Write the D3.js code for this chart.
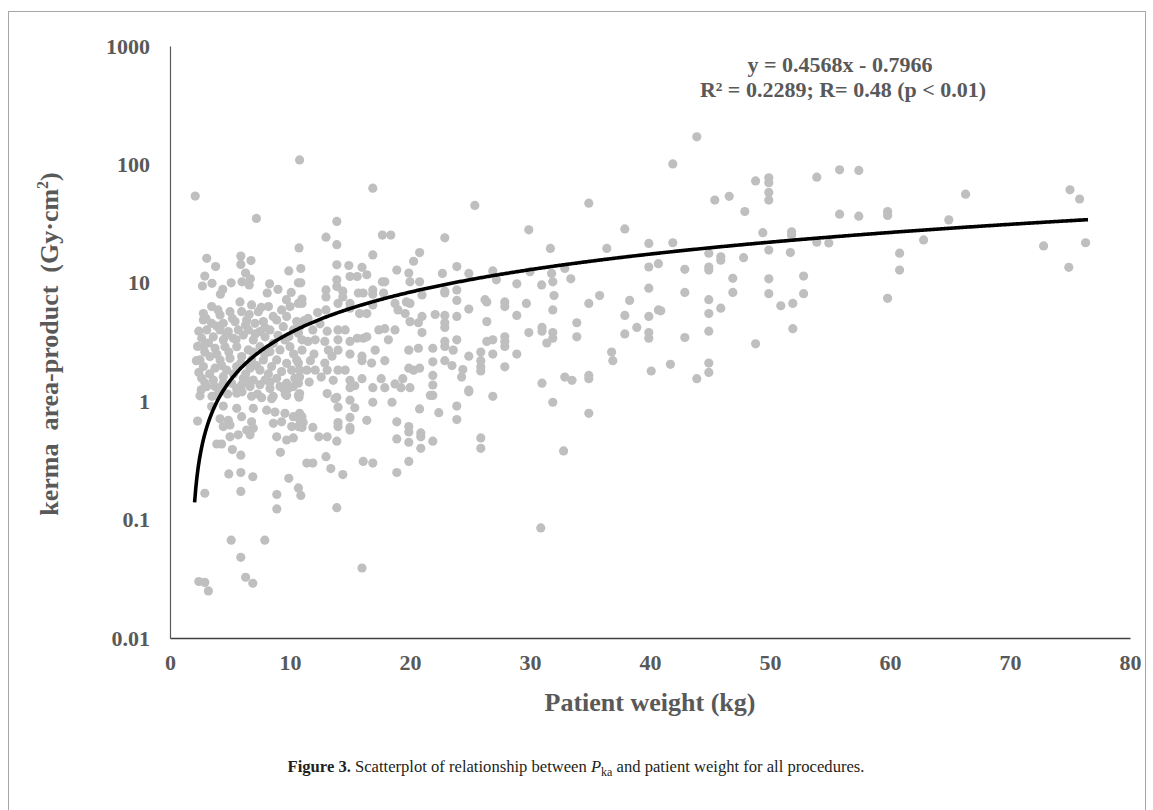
<!DOCTYPE html>
<html>
<head>
<meta charset="utf-8">
<script src="https://cdn.jsdelivr.net/npm/d3@7"></script>
<style>
  body { margin: 0; background: #fff; }
  .axis text { font-family: "Liberation Serif", "Times New Roman", serif; font-weight: bold; font-size: 22px; fill: #595959; }
</style>
</head>
<body>
<div id="container"></div>
<script>
// tick labels
const xTicks = [0, 10, 20, 30, 40, 50, 60, 70, 80];
const yTicks = [0.01, 0.1, 1, 10, 100, 1000];
const yTickLabels = ['0.01', '0.1', '1', '10', '100', '1000'];

// fitted line from the chart text
const fitSlope = 0.4568;
const fitIntercept = -0.7966;
const fitFrom = 2.05;
const fitTo = 76.5;

// [patient weight kg, kerma area-product Gy·cm²]
const under10kg = [
  [2.1,54],[7.2,35],[3.06,16.1],[3.8,13.7],[5.9,16.8],[6.75,15.4],[5.9,14.3],[2.9,11.4],[6.3,12.1],[2.7,9.4],
  [3.5,9.9],[5.1,10],[4.4,8.8],[4.2,8.0],[6.0,10.2],[6.7,10.8],[6.6,9.6],[8.3,9.8],[9.0,8.8],[8.1,8.2],
  [9.9,12.6],[9.7,7.2],
  [2.78,5.5],[3.47,6.3],[5.83,6.9],[6.8,6.5],[7.36,5.7],[5.97,5.7],[5.0,5.7],[4.17,5.35],[8.2,6.3],[9.3,5.9],
  [2.78,4.85],[3.47,4.55],[4.44,4.55],[5.42,4.7],[6.39,4.85],[7.08,4.55],[7.78,4.7],[8.89,4.85],[9.72,5.2],
  [3.06,4.0],[4.17,4.0],[4.86,3.87],[5.69,4.0],[6.53,4.0],[7.5,3.87],[8.33,4.0],[9.44,4.26],
  [2.64,3.4],[3.61,3.5],[4.44,3.29],[5.28,3.4],[6.11,3.62],[6.94,3.29],[7.92,3.5],[8.61,3.08],[9.58,3.29],
  [2.78,2.89],[3.75,2.8],[4.58,2.89],[5.56,2.89],[6.53,2.71],[7.5,2.89],[8.33,2.62],[9.17,2.71],
  [2.5,2.23],[3.33,2.38],[4.17,2.23],[5.0,2.3],[5.97,2.38],[6.8,2.23],[7.78,2.23],[8.89,2.23],[9.72,2.09],
  [2.78,1.96],[3.75,1.9],[4.72,1.83],[5.56,1.96],[6.67,1.9],[7.5,1.83],[8.47,1.96],[9.3,1.78],
  [2.64,1.56],[3.61,1.51],[4.44,1.61],[5.14,1.42],[6.11,1.56],[6.94,1.51],[7.92,1.51],[8.89,1.56],[9.72,1.42],
  [3.06,1.33],[4.17,1.28],[5.56,1.28],[6.67,1.33],[8.33,1.28],[9.44,1.28],
  [2.4,3.9],[3.2,3.1],[3.9,4.3],[4.7,3.6],[5.5,3.3],[6.3,4.4],[7.1,3.7],[7.9,4.2],[2.9,2.6],[3.9,2.5],
  [4.9,2.6],[5.9,2.1],[6.9,2.6],[7.9,2.5],[2.4,1.75],[3.3,1.7],[4.3,2.0],[5.3,1.7],[6.3,1.7],[7.2,2.0],
  [8.2,1.7],[2.3,2.9],[3.0,5.0],[4.0,5.9],[5.2,5.0],[6.6,5.4],[7.6,6.2],[8.6,5.2],[9.0,3.6],[9.9,3.5],
  [2.2,2.2],[2.6,1.25],[3.5,1.1],[4.8,1.15],[6.0,1.2],[7.3,1.15],[8.6,1.1],[9.6,1.15],
  [2.92,1.42],[3.75,1.33],[4.44,1.42],[5.97,1.38],[6.67,1.47],[7.5,1.38],[8.33,1.44],[9.17,1.33],[9.86,1.28],
  [5.56,1.17],[6.8,1.1],[7.64,1.07],[8.47,1.05],[9.72,1.12],[3.89,1.12],
  [3.47,0.90],[4.44,0.91],[5.56,0.87],[6.94,0.87],[8.06,0.84],[8.75,0.81],[9.58,0.79],
  [4.17,0.71],[4.86,0.69],[5.97,0.74],[6.8,0.67],[4.44,0.61],[5.0,0.63],[6.39,0.57],[6.94,0.59],[5.69,0.52],
  [5.0,0.50],[6.67,0.52],[8.61,0.65],[9.3,0.67],[8.89,0.50],[9.72,0.47],
  [2.5,1.11],[2.3,0.68],[3.9,0.435],[4.3,0.435],[5.2,0.39],[5.9,0.35],[9.2,0.37],[4.9,0.243],[5.9,0.25],
  [6.9,0.23],[5.9,0.173],[2.9,0.167],[8.9,0.163],[8.9,0.123],[9.9,0.223],[5.1,0.067],[7.9,0.067],
  [5.9,0.048],[6.3,0.0326],[6.9,0.029],[2.4,0.030],[2.9,0.0295],[3.2,0.025]
];

const from10to21kg = [
  [10.8,109],[10.75,19.7],[10.1,8.3],[10.7,10],[10.0,6.3],[10.7,6.7],[10.56,4.7],[10.28,4.0],[10.7,3.74],
  [10.0,2.89],[10.56,2.23],[10.14,1.83],[10.4,1.56],[10.28,1.33],[10.3,2.5],[10.7,1.42],[10.7,1.12],
  [10.28,0.74],[10.83,0.69],[10.14,0.61],[10.7,0.61],[10.28,0.49],[10.7,0.185],
  [16.9,63],[13.9,33],[13.0,24.3],[17.7,25.3],[18.4,25.3],[13.9,21],[16.9,17.2],[20.8,18],[20.3,15.2],
  [10.9,13.2],[13.9,14.2],[14.9,14],[16.0,13.5],[16.4,11.7],[18.9,12.8],[19.9,12.1],[20.0,10.2],[20.8,10.2],
  [10.9,10],[13.9,10.6],[15,11.3],[15.6,11.3],[13.9,9.3],[13,8.7],[13,7.6],[14.4,8.5],[14.4,7.6],[15.7,8.2],
  [16.1,8.2],[16.9,8.7],[16.9,8.0],[17.7,10.2],[17.9,10.2],[17.8,8.2],[11.0,7.3],[11.0,6.7],[13.0,5.9],
  [14.0,6.7],[15.0,6.7],[15.0,6.1],[15.8,5.5],[16.4,5.5],[16.9,6.5],[18.75,6.7],[19,5.9],[19.6,5.5],
  [19.7,6.9],[20,6.7],[20,4.7],[20.7,4.6],[21,3.8],[19.9,2.7],[17.9,4.1],[18.2,3.3],[17.1,2.7],[17.9,2.2],
  [16.8,2.1],[16,2.4],[16,2.2],[15,2.5],[16.1,3.4],[16.4,3.5],[15,3.2],[15.6,3.4],[14,4.0],[14,3.3],
  [14.6,4.0],[14,2.7],[13.1,3.9],[12.9,3.2],[13.2,2.7],[13.5,2.4],[11.9,4.0],[12.1,3.3],[11,3.3],[11.5,3.2],
  [11,2.7],[10.7,2.1],[11.4,1.83],[12.1,1.83],[12.9,2.1],[13.1,1.83],[14,1.83],[14.6,1.83],[15,1.5],[15,1.3],
  [16,1.55],[16.9,1.3],[17.6,1.55],[17.9,1.3],[18.75,1.4],[19.4,1.55],[20,1.3],[19.9,1.9],[20.3,1.83],
  [20.8,1.9],[20.7,2.8],[18.75,4.0],[17.4,4.0],[10.75,4.2],[10.8,1.83],[10.8,1.6],
  [11.5,5.0],[12.3,5.6],[12.5,4.5],[11.2,4.8],[12.0,2.5],[11.7,2.2],[12.6,1.6],[11.6,1.45],[13.6,1.5],
  [10.8,1.16],[10.75,1.08],[15.4,1.35],[19.25,1.3],[13.1,1.16],[13.9,1.08],[13.75,1.05],[14,0.89],[15,1.02],
  [15.4,0.88],[16.9,0.98],[18.5,0.98],[20.8,0.86],[10.8,0.79],[11,0.74],[11.1,0.66],[11,0.6],[11.9,0.60],
  [14,0.66],[14,0.61],[15,0.73],[15,0.6],[15,0.57],[16.4,0.69],[18.9,0.67],[19.9,0.61],[19.9,0.55],
  [20.9,0.54],[20.9,0.5],[18.9,0.48],[19.9,0.45],[20.9,0.40],[12.4,0.5],[13.1,0.5],[13.9,0.46],[13,0.34],
  [13.4,0.27],[14.4,0.24],[11.4,0.30],[11.9,0.30],[16.1,0.31],[16.9,0.30],[18.9,0.25],[19.9,0.31],
  [10.9,0.16],[13.9,0.126],[16,0.039]
];

const from21to41kg = [
  [25.4,45],[34.9,47],[29.9,28],[37.9,28.5],[22.9,24],[39.9,21.5],[31.7,19.5],[36.4,19.5],[23.9,13.7],
  [22.7,12],[24.9,12],[26.9,12.6],[27.2,10.6],[30,12.4],[31.8,12],[31.9,10.2],[32.9,13.2],[33.4,10.8],
  [39.9,13.6],[40.7,14.5],[21,7.9],[22.9,8.5],[22.9,8.2],[23.9,8.7],[23.9,7.1],[26.25,7.2],[26.4,6.9],
  [27.9,6.9],[27.9,6.3],[28.9,9.8],[29.7,6.7],[30.97,9.6],[32,7.8],[31.9,5.9],[34.9,6.7],[35.8,7.8],
  [38.3,7.1],[39.9,9.0],[40.7,5.9],[21,5.2],[22.1,5.4],[22.9,5.3],[22.9,4.6],[22.9,4.2],[23.9,5.2],
  [24.9,6.0],[26.4,4.7],[28.9,5.3],[33.9,4.6],[33.9,3.5],[37.9,5.3],[37.9,3.7],[38.9,4.2],[39.9,5.2],
  [39.9,3.8],[39.9,3.4],[29.9,3.8],[31,4.2],[31,3.9],[31.9,3.8],[31.9,3.4],[31.4,3.1],[21.9,2.8],
  [22.9,3.2],[22.9,2.9],[23.9,3.3],[23.6,2.7],[26.4,3.2],[26.9,3.3],[27.9,3.5],[27.9,3.2],[27.9,2.9],
  [26.9,2.5],[28.9,2.5],[24.9,2.4],[25.9,2.6],[25.9,2.2],[25.9,1.95],[25.9,1.8],[21.9,2.15],[22.9,2.2],
  [23.5,2.0],[21.9,1.65],[21.9,1.37],[24.4,1.85],[24.3,1.6],[24.9,1.24],[27.9,1.95],[31,1.42],[32.9,1.6],
  [33.5,1.5],[34.9,1.65],[34.9,1.55],[36.8,2.6],[36.9,2.2],[40.1,1.8],
  [21.7,1.12],[21.9,1.12],[24.9,1.2],[26.9,1.1],[22.4,0.8],[23.9,0.91],[23.9,0.70],[31.9,0.98],[34.9,0.79],
  [21.9,0.46],[25.9,0.49],[25.9,0.40],[32.8,0.38],[30.9,0.085]
];

const over41kg = [
  [43.9,171],[41.9,101],[55.8,90],[57.4,89],[53.9,78],[49.9,77],[49.9,70],[49.9,58],[49.9,50],[48.8,72.5],
  [46.6,53.7],[45.4,50],[47.9,40],[55.8,38],[57.4,36.5],[59.8,40],[59.8,37],[41.9,21.8],[49.4,26.5],
  [51.8,27],[51.8,25.3],[53.9,22],[54.9,21.7],[44.9,17.8],[45.9,16.6],[45.9,15.5],[47.8,16.3],[49.9,18.9],
  [51.7,18],[42.9,13],[44.9,13.6],[44.9,12.8],[42.9,8.3],[44.9,7.2],[45.9,6.1],[46.9,10.9],[46.9,8.3],
  [49.9,10.8],[49.9,8.1],[50.9,6.4],[51.9,6.7],[52.8,11.4],[52.8,8.1],[51.9,4.1],[59.8,7.4],[40.9,5.8],
  [42.9,3.45],[44.9,5.5],[44.9,3.9],[48.8,3.05],[41.7,2.05],[43.9,1.55],[44.9,2.1],[44.9,1.75],
  [66.3,56],[75,61],[75.8,51],[64.9,34],[62.8,23],[60.8,17.8],[60.8,12.8],[72.8,20.5],[76.3,21.8],[74.9,13.5]
];

const points = under10kg.concat(from10to21kg, from21to41kg, over41kg);

const width = 1153;
const height = 810;

const svg = d3.select('#container')
  .append('svg')
  .attr('width', width)
  .attr('height', height);

// figure frame
svg.append('rect')
  .attr('x', 8.5)
  .attr('y', 11.5)
  .attr('width', 1137)
  .attr('height', 820)
  .attr('fill', 'none')
  .attr('stroke', '#a6a6a6')
  .attr('stroke-width', 1);

const x = d3.scaleLinear()
  .domain([0, 80])
  .range([170, 1130]);

const y = d3.scaleLog()
  .domain([0.01, 1000])
  .range([638, 46]);

// axes
const yAxis = svg.append('g')
  .attr('class', 'axis')
  .attr('transform', 'translate(170,0)')
  .call(d3.axisLeft(y)
    .tickValues(yTicks)
    .tickFormat((d, i) => yTickLabels[i])
    .tickSize(0)
    .tickPadding(20));
yAxis.select('.domain').attr('stroke', '#595959').attr('stroke-width', 1.2);

const xAxis = svg.append('g')
  .attr('class', 'axis')
  .attr('transform', 'translate(0,638)')
  .call(d3.axisBottom(x)
    .tickValues(xTicks)
    .tickSize(0)
    .tickPadding(16));
xAxis.select('.domain').attr('stroke', '#404040').attr('stroke-width', 1.6);

// points
svg.append('g')
  .selectAll('circle')
  .data(points)
  .enter()
  .append('circle')
  .attr('cx', d => x(d[0]))
  .attr('cy', d => y(d[1]))
  .attr('r', 4.6)
  .attr('fill', '#bfbfbf');

// trend line
const fitX = d3.range(fitFrom, fitTo, 0.1).concat([fitTo]);
const line = d3.line()
  .x(d => x(d))
  .y(d => y(fitSlope * d + fitIntercept));

svg.append('path')
  .datum(fitX)
  .attr('d', line)
  .attr('fill', 'none')
  .attr('stroke', '#000')
  .attr('stroke-width', 3.6);

// equation
const eq = svg.append('text')
  .attr('text-anchor', 'middle')
  .style('font-family', '"Liberation Serif", "Times New Roman", serif')
  .style('font-weight', 'bold')
  .style('font-size', '22px')
  .attr('fill', '#595959');
eq.append('tspan').attr('x', 840).attr('y', 72).text('y = 0.4568x - 0.7966');
eq.append('tspan').attr('x', 843).attr('y', 97).text('R² = 0.2289; R= 0.48 (p < 0.01)');

// axis titles
svg.append('text')
  .attr('x', 650)
  .attr('y', 711)
  .attr('text-anchor', 'middle')
  .style('font-family', '"Liberation Serif", "Times New Roman", serif')
  .style('font-weight', 'bold')
  .style('font-size', '26px')
  .attr('fill', '#595959')
  .text('Patient weight (kg)');

const yTitle = svg.append('text')
  .attr('transform', 'translate(58,344) rotate(-90)')
  .attr('text-anchor', 'middle')
  .style('font-family', '"Liberation Serif", "Times New Roman", serif')
  .style('font-weight', 'bold')
  .style('font-size', '26px')
  .attr('fill', '#595959');
yTitle.append('tspan').text('kerma\u00a0\u00a0area-product\u00a0\u00a0(Gy·cm');
yTitle.append('tspan').attr('dy', -10).style('font-size', '16px').text('2');
yTitle.append('tspan').attr('dy', 10).text(')');

// caption
const cap = svg.append('text')
  .attr('x', 576)
  .attr('y', 772)
  .attr('text-anchor', 'middle')
  .style('font-family', '"Liberation Serif", "Times New Roman", serif')
  .style('font-size', '16.6px')
  .attr('fill', '#231f20');
cap.append('tspan').style('font-weight', 'bold').text('Figure 3.');
cap.append('tspan').text(' Scatterplot of relationship between ');
cap.append('tspan').style('font-style', 'italic').text('P');
cap.append('tspan').attr('dy', 4).style('font-size', '12px').text('ka');
cap.append('tspan').attr('dy', -4).text(' and patient weight for all procedures.');
</script>
</body>
</html>
